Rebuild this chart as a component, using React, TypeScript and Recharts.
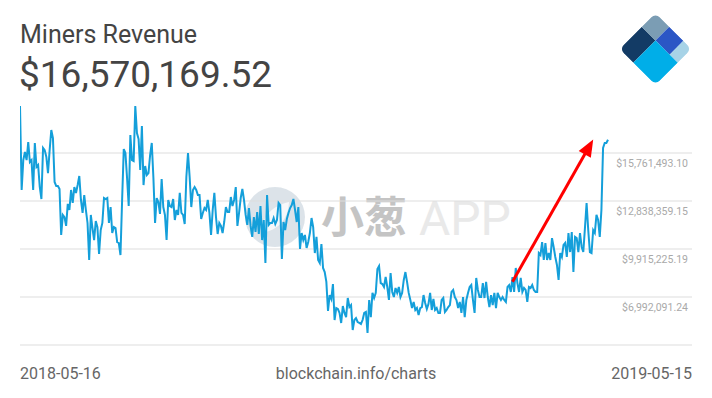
import React from 'react';
import { LineChart, Line, XAxis, YAxis, ReferenceLine } from 'recharts';

// Daily miners revenue, in millions of USD (2018-05-16 .. 2019-05-15)
const revenueM: number[] = [
  18.62, 13.51, 15.33, 15.82, 15.33, 16.43, 15.21, 15.33, 13.51, 16.37,
  14.91, 15.03, 13.69, 12.96, 16.07, 15.94, 15.52, 14.54, 15.94, 17.16,
  16.67, 14.0, 13.75, 13.75, 13.57, 10.77, 11.99, 11.86, 11.32, 12.66,
  12.29, 13.51, 12.72, 13.69, 13.33, 13.81, 14.36, 12.9, 12.11, 13.2,
  12.29, 11.5, 9.25, 11.99, 11.19, 10.46, 11.62, 11.25, 9.61, 11.07,
  11.5, 13.02, 12.96, 13.02, 11.5, 12.47, 10.89, 11.25, 11.19, 10.34,
  10.28, 9.55, 12.9, 16.0, 15.76, 14.24, 12.53, 16.86, 15.33, 15.27,
  18.62, 16.98, 16.61, 14.73, 17.41, 13.81, 14.97, 14.42, 14.54, 15.64,
  16.37, 14.24, 11.5, 13.02, 12.78, 12.05, 14.18, 12.47, 11.99, 10.46,
  12.9, 12.53, 12.47, 12.96, 11.68, 12.29, 11.99, 13.33, 12.11, 11.99,
  11.44, 14.3, 15.76, 14.3, 12.47, 13.51, 13.69, 13.51, 13.2, 13.2,
  11.74, 12.11, 12.41, 12.29, 12.9, 12.11, 10.77, 12.29, 13.33, 11.86,
  10.83, 11.5, 11.32, 10.89, 11.56, 12.47, 12.17, 12.17, 13.08, 12.53,
  12.9, 13.69, 11.32, 12.11, 13.02, 13.57, 12.9, 11.99, 11.38, 12.41,
  11.32, 10.65, 11.86, 10.95, 12.17, 10.83, 12.53, 10.46, 11.68, 9.06,
  13.2, 11.38, 11.5, 11.5, 11.8, 11.44, 11.68, 12.72, 12.59, 9.31,
  11.56, 11.07, 11.74, 12.11, 12.41, 12.59, 12.96, 12.29, 11.56, 12.47,
  9.92, 10.89, 10.46, 10.77, 9.98, 10.34, 10.89, 11.8, 11.25, 9.67,
  10.65, 9.25, 9.06, 10.22, 8.76, 8.51, 7.91, 6.14, 7.11, 6.87,
  7.78, 5.59, 6.32, 6.26, 6.02, 5.41, 6.44, 6.02, 5.77, 6.93,
  6.38, 6.5, 4.98, 5.59, 5.71, 5.47, 5.41, 5.35, 5.59, 6.02,
  6.08, 4.8, 6.81, 5.77, 7.24, 6.93, 7.24, 8.7, 8.88, 7.84,
  7.78, 7.6, 8.21, 7.6, 6.81, 8.45, 7.3, 6.99, 7.54, 7.24,
  7.6, 6.99, 7.24, 8.03, 8.51, 7.91, 7.24, 6.81, 6.32, 6.69,
  6.2, 6.32, 5.9, 6.32, 6.38, 7.11, 6.63, 6.26, 6.57, 7.24,
  6.2, 6.87, 6.2, 6.32, 6.02, 6.02, 6.81, 6.93, 6.08, 6.2,
  6.38, 6.5, 7.3, 7.42, 6.99, 6.81, 6.32, 6.69, 6.02, 6.99,
  5.77, 6.81, 7.24, 7.6, 7.72, 6.81, 6.02, 8.15, 7.42, 6.99,
  6.99, 7.84, 6.93, 7.91, 6.99, 6.38, 7.11, 6.5, 7.24, 6.32,
  7.24, 6.99, 6.81, 6.99, 6.81, 6.69, 7.6, 7.72, 7.3, 8.21,
  7.3, 8.76, 7.84, 7.3, 8.15, 7.3, 7.54, 7.42, 6.69, 7.6,
  7.54, 7.72, 7.42, 7.3, 7.3, 9.67, 9.55, 10.34, 9.25, 10.28,
  9.25, 9.67, 9.25, 10.58, 10.04, 9.43, 8.94, 8.03, 9.67, 9.43,
  10.16, 10.28, 9.43, 10.89, 9.73, 10.95, 8.51, 10.65, 10.58, 9.73,
  10.89, 10.04, 9.73, 11.19, 12.72, 11.07, 9.73, 9.67, 11.07, 10.89,
  11.99, 11.68, 10.65, 12.29, 16.07, 16.37, 16.37, 16.57,
];

const yTickValues: number[] = [6992091.24, 9915225.19, 12838359.15, 15761493.1];
const yDomain: [number, number] = [4068957.29, 18684627.05];
const xDomain: [number, number] = [0, 408];
const dateLabels: string[] = ['2018-05-16', '2019-05-15'];
const sourceLabel = 'blockchain.info/charts';
const titleText = 'Miners Revenue';
const headlineValue = 16570169.52;
// arrow annotation, in data units (day index, millions)
const arrowStart = { i: 299, m: 7.92 };
const arrowEnd = { i: 348, m: 16.58 };

const data = revenueM.map((m, i) => ({ i, v: m * 1e6 }));

const fmt = (v: number) => {
  const [int, dec] = v.toFixed(2).split('.');
  return '$' + int.replace(/\B(?=(\d{3})+(?!\d))/g, ',') + '.' + dec;
};

const FONT = 'Roboto, "Noto Sans", sans-serif';

const ArrowShape = (props: any) => {
  const { x1, y1, x2, y2 } = props;
  const dx = x2 - x1;
  const dy = y2 - y1;
  const len = Math.sqrt(dx * dx + dy * dy) || 1;
  const ux = dx / len;
  const uy = dy / len;
  const head = 17;
  const half = 7;
  const bx = x2 - ux * head;
  const by = y2 - uy * head;
  const px = -uy;
  const py = ux;
  return (
    <g>
      <line x1={x1} y1={y1} x2={bx + ux * 2} y2={by + uy * 2} stroke="#ff0000" strokeWidth={3} />
      <polygon
        points={`${x2},${y2} ${bx + px * half},${by + py * half} ${bx - px * half},${by - py * half}`}
        fill="#ff0000"
      />
    </g>
  );
};

const makeLabel = (text: string) => (p: any) => {
  const vb = p.viewBox || {};
  return (
    <text
      x={(vb.x || 0) + (vb.width || 0) - 4}
      y={(vb.y || 0) + 14}
      textAnchor="end"
      fontFamily={FONT}
      fontSize={10.5}
      fill="#a9a9a9"
    >
      {text}
    </text>
  );
};

const Logo = () => (
  <g transform="translate(655.5,49) rotate(45)">
    <defs>
      <clipPath id="logoClip">
        <rect x={-25.5} y={-25.5} width={51} height={51} rx={6} ry={6} />
      </clipPath>
    </defs>
    <g clipPath="url(#logoClip)">
      <rect x={-25.5} y={-6} width={19.5} height={31.5} fill="#133b65" />
      <rect x={-25.5} y={-25.5} width={19.5} height={19.5} fill="#7b9db4" />
      <rect x={-6} y={-25.5} width={20} height={19.5} fill="#2b56c5" />
      <rect x={14} y={-25.5} width={11.5} height={19.5} fill="#a7d3e7" />
      <rect x={-6} y={-6} width={31.5} height={31.5} fill="#00aee8" />
    </g>
  </g>
);

export default function App() {
  return (
    <div
      style={{
        position: 'fixed',
        left: 0,
        top: 0,
        width: 712,
        height: 398,
        background: '#ffffff',
        overflow: 'hidden',
      }}
    >
      <svg width={712} height={398} style={{ position: 'absolute', left: 0, top: 0 }}>
        <text x={20} y={42.5} fontFamily={FONT} fontSize={25} fill="#444444">
          {titleText}
        </text>
        <text x={19} y={86.5} fontFamily={FONT} fontSize={37} fill="#444444">
          {fmt(headlineValue)}
        </text>
        <Logo />
        {/* watermark */}
        <circle cx={275} cy={217} r={30} fill="#d6dee5" opacity={0.85} />
        <path d="M262 233 C 262 216, 272 206, 289 202 C 288 220, 278 230, 262 233 Z" fill="#ffffff" opacity={0.75} />
        <text x={321} y={233} fontFamily='"Noto Sans CJK SC", sans-serif' fontWeight={700} fontSize={43} fill="#c4c4c4">
          小葱
        </text>
        <text x={419} y={235} fontFamily={FONT} fontSize={48} fill="#e9e9e9">
          APP
        </text>
        <text x={20} y={379} fontFamily={FONT} fontSize={16} fill="#666666">
          {dateLabels[0]}
        </text>
        <text x={356} y={379} textAnchor="middle" fontFamily={FONT} fontSize={16} fill="#666666">
          {sourceLabel}
        </text>
        <text x={692} y={379} textAnchor="end" fontFamily={FONT} fontSize={16} fill="#666666">
          {dateLabels[1]}
        </text>
      </svg>
      <div style={{ position: 'absolute', left: 0, top: 0 }}>
        <LineChart width={712} height={398} data={data} margin={{ top: 105, right: 20, bottom: 53, left: 20 }}>
          <XAxis dataKey="i" type="number" domain={xDomain} hide allowDataOverflow />
          <YAxis type="number" domain={yDomain} hide allowDataOverflow />
          <ReferenceLine y={yDomain[0]} stroke="#dddddd" strokeWidth={1} />
          {yTickValues.map((v) => (
            <ReferenceLine
              key={v}
              y={v}
              stroke="#dddddd"
              strokeWidth={1}
              label={{ content: makeLabel(fmt(v)) } as any}
            />
          ))}
          <Line
            type="linear"
            dataKey="v"
            stroke="#149fda"
            strokeWidth={2}
            dot={false}
            isAnimationActive={false}
          />
          <ReferenceLine
            segment={[
              { x: arrowStart.i, y: arrowStart.m * 1e6 },
              { x: arrowEnd.i, y: arrowEnd.m * 1e6 },
            ]}
            shape={ArrowShape as any}
          />
        </LineChart>
      </div>
    </div>
  );
}
